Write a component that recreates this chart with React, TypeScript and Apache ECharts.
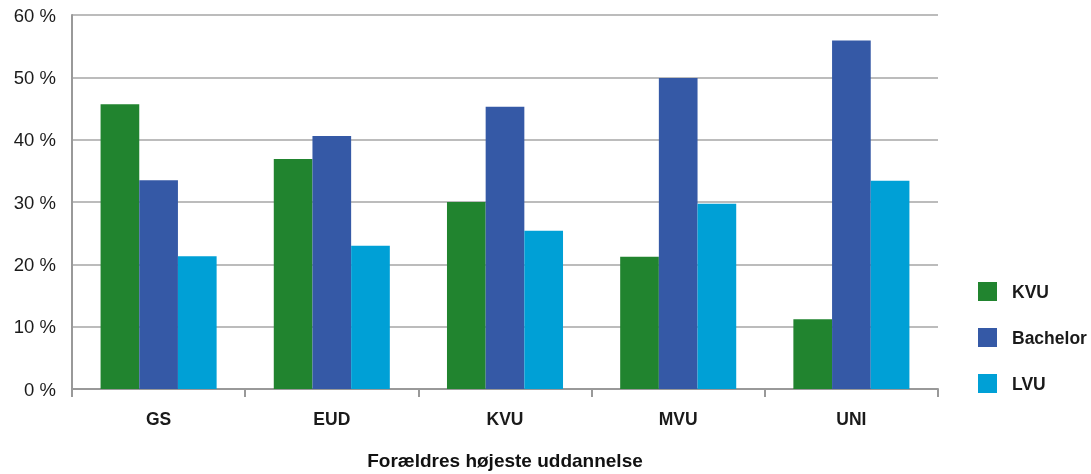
import React, { useEffect, useRef } from "react";
import * as echarts from "echarts";

const categories = ["GS", "EUD", "KVU", "MVU", "UNI"];
const seriesNames = ["KVU", "Bachelor", "LVU"];
const kvu = [45.7, 36.9, 30.0, 21.2, 11.2];
const bachelor = [33.5, 40.6, 45.3, 49.9, 55.9];
const lvu = [21.3, 23.0, 25.4, 29.7, 33.4];
const colors = ["#21842F", "#3559A6", "#00A0D6"];
const yTicks = [0, 10, 20, 30, 40, 50, 60];

const FONT = "'Liberation Sans', Arial, Helvetica, sans-serif";

export default function App() {
  const ref = useRef<HTMLDivElement>(null);
  useEffect(() => {
    if (!ref.current) return;
    const chart = echarts.init(ref.current, null, { renderer: "svg" });
    const values = [kvu, bachelor, lvu];
    chart.setOption({
      animation: false,
      textStyle: { fontFamily: FONT },
      grid: { left: 72, right: 153, top: 15, bottom: 85, outerBoundsMode: "none", containLabel: false },
      legend: {
        orient: "vertical",
        left: 978,
        top: 282,
        padding: 0,
        itemWidth: 19,
        itemHeight: 19,
        itemGap: 27,
        icon: "rect",
        data: seriesNames,
        textStyle: { fontFamily: FONT, fontSize: 17.5, fontWeight: "bold", color: "#1a1a1a", padding: [0, 0, 0, 10] },
      },
      xAxis: {
        type: "category",
        data: categories,
        name: "Forældres højeste uddannelse",
        nameLocation: "middle",
        nameGap: 62,
        nameTextStyle: { fontFamily: FONT, fontSize: 19, fontWeight: "bold", color: "#111" },
        axisLine: { lineStyle: { color: "#999", width: 2 } },
        axisTick: { show: true, length: 8, lineStyle: { color: "#999", width: 2 } },
        axisLabel: { fontFamily: FONT, fontSize: 17.5, color: "#1a1a1a", margin: 21, fontWeight: "bold" },
      },
      yAxis: {
        type: "value",
        min: yTicks[0],
        max: yTicks[yTicks.length - 1],
        interval: 10,
        axisLine: { show: true, lineStyle: { color: "#999", width: 2 } },
        axisTick: { show: false },
        splitLine: { lineStyle: { color: "#a6a6a6", width: 1.5 } },
        axisLabel: {
          fontFamily: FONT,
          fontSize: 18.5,
          color: "#1a1a1a",
          margin: 16,
          formatter: (v: number) => `${v} %`,
        },
      },
      series: seriesNames.map((name, i) => ({
        name,
        type: "bar",
        data: values[i],
        barGap: "0%",
        barCategoryGap: "33%",
        itemStyle: { color: colors[i] },
      })),
    });
    return () => chart.dispose();
  }, []);
  return <div ref={ref} style={{ position: "fixed", left: 0, top: 0, width: 1091, height: 474 }} />;
}
